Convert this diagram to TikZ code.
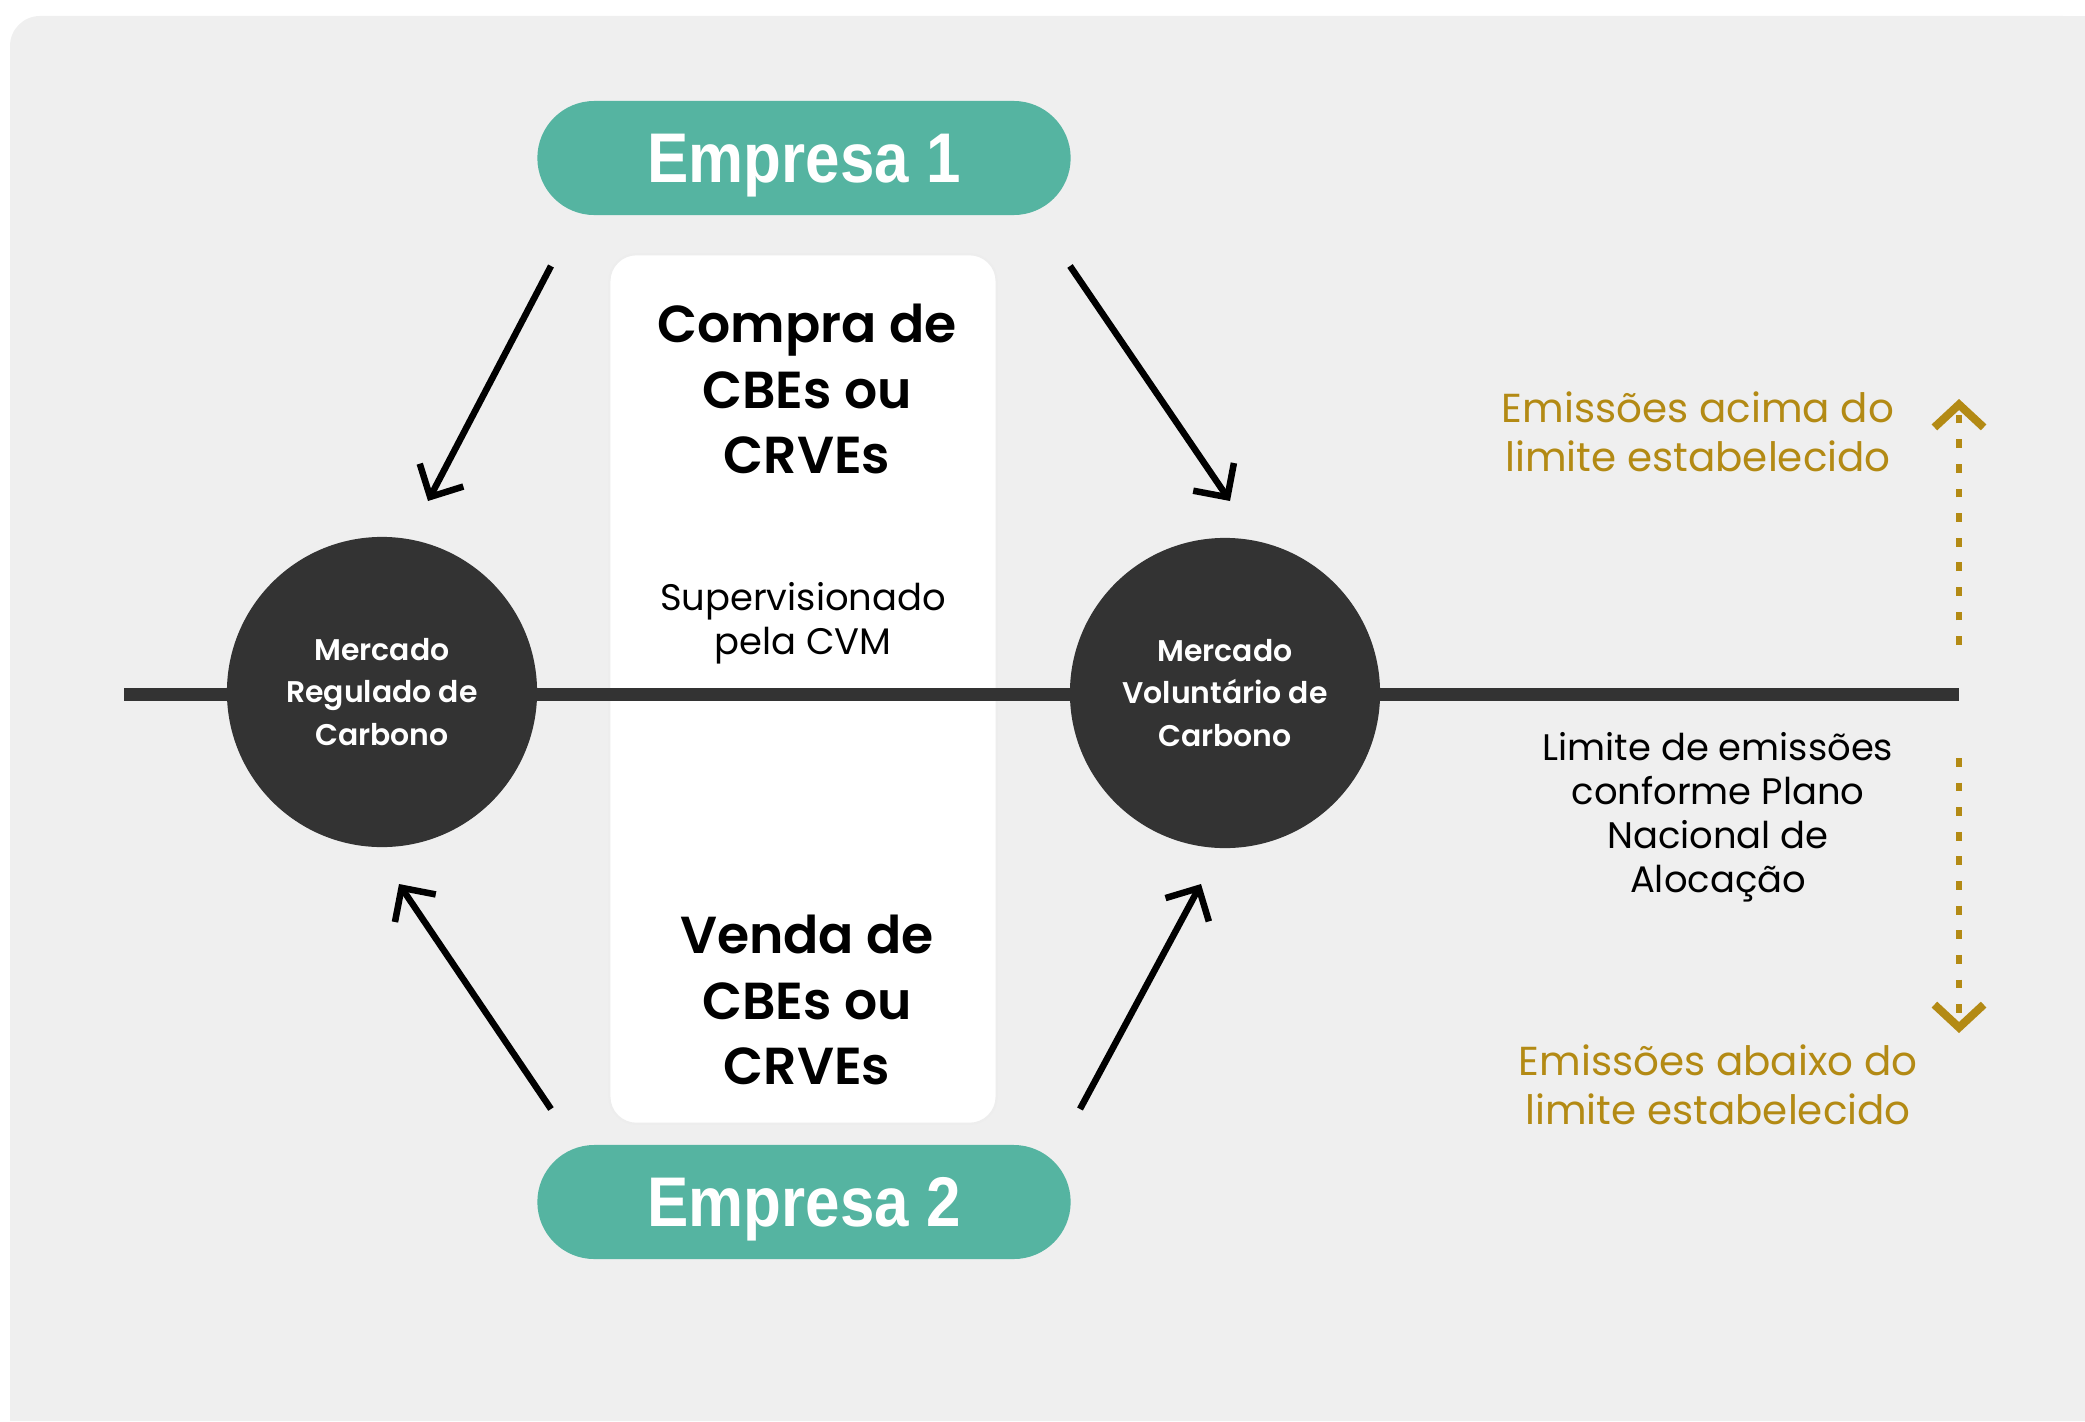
\documentclass[tikz,border=0pt]{standalone}
\usepackage{fontspec}
\setmainfont{Poppins}
\newfontfamily\medfont{Poppins Medium}
\newfontfamily\semifont{Poppins SemiBold}
\newfontfamily\pillfont[FakeStretch=0.88]{Liberation Sans}
\usetikzlibrary{arrows.meta,positioning}
\definecolor{tealpill}{HTML}{55B4A1}
\definecolor{darkmkt}{HTML}{333333}
\definecolor{goldtxt}{HTML}{B38A14}
\definecolor{bggray}{HTML}{EFEFEF}
\tikzset{
PILL/.style={draw=none, fill=tealpill, text=white, minimum width=5.33cm, minimum height=1.14cm, rounded corners=0.57cm, text depth=0pt, font=\pillfont\bfseries\fontsize{20}{24}\selectfont},
MARKET/.style={circle, fill=darkmkt, text=white, minimum size=3.1cm, inner sep=0pt, align=center, font=\semifont\fontsize{8.5}{12.2}\selectfont},
BAND/.style={draw=white!93!black, line width=0.6pt, fill=white, minimum width=3.87cm, minimum height=8.69cm, rounded corners=0.27cm},
BIGTXT/.style={align=center, font=\semifont\fontsize{14.8}{18.5}\selectfont},
SMALLTXT/.style={align=center, font=\fontsize{10.5}{12.5}\selectfont},
GOLDTXT/.style={align=center, text=goldtxt, font=\fontsize{11.5}{14}\selectfont},
LIMIT/.style={draw=darkmkt, line width=3.7pt},
ARROW/.style={draw=black, line width=1.85pt, -{Straight Barb[length=7pt, width=14pt, line width=1.85pt]}},
GOLDARROW/.style={draw=goldtxt, line width=1.8pt, dash pattern=on 2.5pt off 4.5pt, -{Straight Barb[length=6.5pt, width=14pt, line width=2.3pt]}},
}
\begin{document}
\begin{tikzpicture}
[x=0.01cm, y=-0.01cm]
	\useasboundingbox (0,0) rectangle (2085,1421);
	\fill[bggray] (10,1421) -- (10,46) arc[start angle=180, end angle=90, radius=0.3cm] -- (2085,16) -- (2085,1421) -- cycle;
	% middle band
	\node[BAND] (band) at (803,689) {};
	% limit line
	\coordinate (lim w) at (124,694);
	\coordinate (lim e) at (1959,694);
	\draw[LIMIT] (lim w) -- (lim e);
	% markets
	\node[MARKET] (mrc) at (382,692) {Mercado\\Regulado de\\Carbono};
	\node[MARKET] (mvc) at (1225,693) {Mercado\\Voluntário de\\Carbono};
	% companies
	\node[PILL] (emp1) at (804,158) {Empresa 1};
	\node[PILL] (emp2) at (804,1202) {Empresa 2};
	% texts
	\node[BIGTXT] (compra) at (807,389) {Compra de\\CBEs ou\\CRVEs};
	\node[SMALLTXT] (cvm) at (803,623) {Supervisionado\\pela CVM};
	\node[BIGTXT] (venda) at (807,1000) {Venda de\\CBEs ou\\CRVEs};
	\node[SMALLTXT] (plano) at (1718,817) {Limite de emissões\\conforme Plano\\Nacional de\\Alocação};
	\node[GOLDTXT] (acima) at (1698,432) {Emissões acima do\\limite estabelecido};
	\node[GOLDTXT] (abaixo) at (1718,1085) {Emissões abaixo do\\limite estabelecido};
	% arrows
	\coordinate (a1) at (551,266);
	\coordinate (a1e) at (428,501);
	\coordinate (a2) at (1070,266);
	\coordinate (a2e) at (1230,501);
	\coordinate (a3) at (551,1109);
	\coordinate (a3e) at (399,884);
	\coordinate (a4) at (1080,1109);
	\coordinate (a4e) at (1201,884);
	\draw[ARROW] (a1) -- (a1e);
	\draw[ARROW] (a2) -- (a2e);
	\draw[ARROW] (a3) -- (a3e);
	\draw[ARROW] (a4) -- (a4e);
	% emission arrows
	\coordinate (up s) at (1959,645);
	\coordinate (up e) at (1959,399);
	\coordinate (dn s) at (1959,758);
	\coordinate (dn e) at (1959,1033);
	\draw[GOLDARROW] (up s) -- (up e);
	\draw[GOLDARROW] (dn s) -- (dn e);
\end{tikzpicture}
\end{document}
